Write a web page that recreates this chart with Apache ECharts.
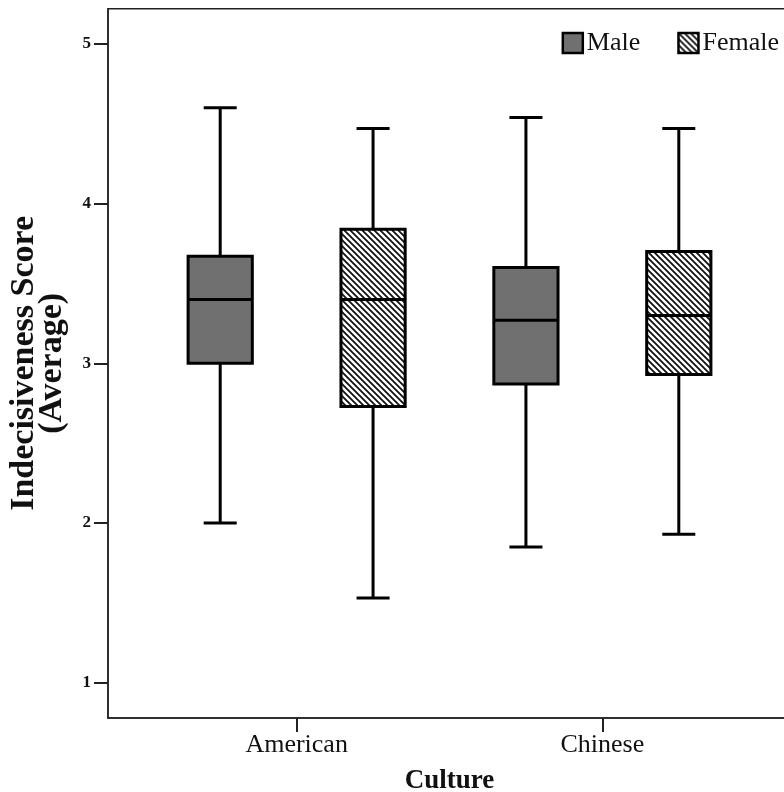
<!DOCTYPE html>
<html>
<head>
<meta charset="utf-8">
<script src="https://cdn.jsdelivr.net/npm/echarts@6/dist/echarts.min.js"></script>
<style>html,body{margin:0;padding:0;background:#fff}#c{width:784px;height:792px}</style>
</head>
<body>
<div id="c"></div>
<script>
// ---- data ----
const categories = ['American', 'Chinese'];
const groups = ['Male', 'Female'];
// [low whisker, Q1, median, Q3, high whisker] per culture
const maleStats = [
  [2.00, 3.00, 3.40, 3.67, 4.60],
  [1.85, 2.87, 3.27, 3.60, 4.54]
];
const femaleStats = [
  [1.53, 2.73, 3.40, 3.84, 4.47],
  [1.93, 2.93, 3.30, 3.70, 4.47]
];
const yTicks = [1, 2, 3, 4, 5];

// ---- styles ----
const FONT = 'Liberation Serif';
function hatch() {
  const s = 6, cv = document.createElement('canvas');
  cv.width = s; cv.height = s;
  const g = cv.getContext('2d');
  g.fillStyle = '#fff'; g.fillRect(0, 0, s, s);
  g.strokeStyle = '#111'; g.lineWidth = 1.8;
  g.beginPath();
  g.moveTo(-1, -1); g.lineTo(s + 1, s + 1);
  g.moveTo(s - 1, -1); g.lineTo(s + 1, 1);
  g.moveTo(-1, s - 1); g.lineTo(1, s + 1);
  g.stroke();
  return cv;
}
const hatchFill = { image: hatch(), repeat: 'repeat' };
const fills = { Male: '#707070', Female: hatchFill };
const offsets = { Male: -0.25, Female: 0.25 };
const BOX_W = 0.21, CAP_W = 0.108;

function makeData(stats, off) {
  return stats.map((s, i) => [i + 1 + off].concat(s));
}

function renderBox(params, api) {
  const x = api.value(0);
  const lo = api.coord([x, api.value(1)]);
  const q1 = api.coord([x, api.value(2)]);
  const md = api.coord([x, api.value(3)]);
  const q3 = api.coord([x, api.value(4)]);
  const hi = api.coord([x, api.value(5)]);
  const bw = api.size([BOX_W, 0])[0];
  const cw = api.size([CAP_W, 0])[0];
  const cx = lo[0];
  const ln = { stroke: '#000', lineWidth: 3 };
  const fill = fills[params.seriesName];
  return {
    type: 'group',
    children: [
      { type: 'line', shape: { x1: cx, y1: hi[1], x2: cx, y2: lo[1] }, style: ln },
      { type: 'line', shape: { x1: cx - cw / 2, y1: hi[1], x2: cx + cw / 2, y2: hi[1] }, style: ln },
      { type: 'line', shape: { x1: cx - cw / 2, y1: lo[1], x2: cx + cw / 2, y2: lo[1] }, style: ln },
      { type: 'rect', shape: { x: cx - bw / 2, y: q3[1], width: bw, height: q1[1] - q3[1] },
        style: { fill: fill, stroke: '#000', lineWidth: 3 } },
      { type: 'line', shape: { x1: cx - bw / 2, y1: md[1], x2: cx + bw / 2, y2: md[1] }, style: ln }
    ]
  };
}

const chart = echarts.init(document.getElementById('c'), null, { renderer: 'canvas' });
chart.setOption({
  animation: false,
  backgroundColor: '#fff',
  grid: { left: 108, right: -7, top: 8.7, bottom: 74, show: true, borderColor: '#222', borderWidth: 1.5,
          containLabel: false, outerBoundsMode: 'none' },
  legend: {
    right: 0, top: 25, itemWidth: 20, itemHeight: 20, itemGap: 37,
    textStyle: { fontFamily: FONT, fontSize: 26, color: '#111', padding: [0, 0, 0, -1] },
    data: [
      { name: 'Male', icon: 'rect', itemStyle: { color: '#707070', borderColor: '#000', borderWidth: 2.5 } },
      { name: 'Female', icon: 'rect', itemStyle: { color: hatchFill, borderColor: '#000', borderWidth: 2.5 } }
    ]
  },
  xAxis: {
    type: 'value', min: 0.383, max: 2.617,
    splitLine: { show: false },
    axisLine: { show: true, lineStyle: { color: '#222', width: 1.5 } },
    axisTick: { show: true, length: 14, lineStyle: { color: '#222', width: 2 }, customValues: [1, 2] },
    axisLabel: {
      customValues: [1, 2], margin: 14,
      formatter: v => categories[Math.round(v) - 1] || '',
      fontFamily: FONT, fontSize: 26, color: '#111'
    },
    name: 'Culture', nameLocation: 'middle', nameGap: 50,
    nameTextStyle: { fontFamily: FONT, fontSize: 27, fontWeight: 'bold', color: '#111' }
  },
  yAxis: {
    type: 'value', min: 0.779, max: 5.221,
    splitLine: { show: false },
    axisLine: { show: true, lineStyle: { color: '#222', width: 1.5 } },
    axisTick: { show: true, length: 14, lineStyle: { color: '#222', width: 2 }, customValues: yTicks },
    axisLabel: { customValues: yTicks, margin: 17, fontFamily: FONT, fontSize: 17, fontWeight: 'bold', color: '#111' },
    name: 'Indecisiveness Score\n(Average)', nameLocation: 'middle', nameGap: 42,
    nameTextStyle: { fontFamily: FONT, fontSize: 34, fontWeight: 'bold', color: '#111', lineHeight: 28 }
  },
  series: [
    { name: 'Male', type: 'custom', renderItem: renderBox, data: makeData(maleStats, offsets.Male),
      itemStyle: { color: '#707070' }, encode: { x: 0, y: [1, 2, 3, 4, 5] } },
    { name: 'Female', type: 'custom', renderItem: renderBox, data: makeData(femaleStats, offsets.Female),
      itemStyle: { color: hatchFill }, encode: { x: 0, y: [1, 2, 3, 4, 5] } }
  ]
});
</script>
</body>
</html>
